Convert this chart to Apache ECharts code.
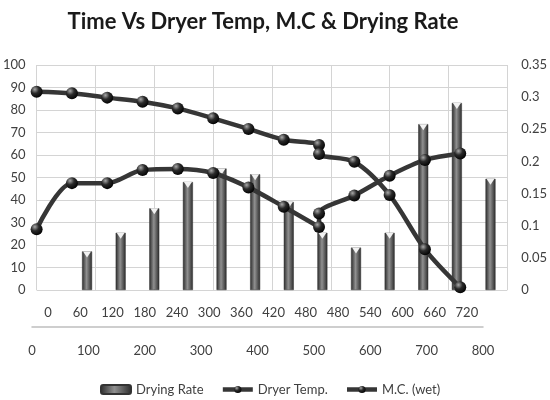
<!DOCTYPE html>
<html>
<head>
<meta charset="utf-8">
<script src="https://cdn.jsdelivr.net/npm/echarts@6/dist/echarts.min.js"></script>
<style>
  html, body { margin: 0; padding: 0; background: #fff; }
  #chart { width: 550px; height: 400px; }
</style>
</head>
<body>
<div id="chart"></div>
<script>
// time (min) - 480 appears twice in the source sheet
const times = ['0', '60', '120', '180', '240', '300', '360', '420', '480', '480', '540', '600', '660', '720']
const timeValues = [0, 60, 120, 180, 240, 300, 360, 420, 480, 480, 540, 600, 660, 720]
const dryingRate = [null, 0.06, 0.089, 0.127, 0.168, 0.189, 0.18, 0.137, 0.089, 0.066, 0.089, 0.258, 0.291, 0.173]
const dryerTemp = [27, 47.5, 47.5, 53.3, 53.8, 52, 45.6, 37, 28, 34, 42, 50.8, 57.8, 60.7]
const moisture = [88.1, 87.4, 85.5, 83.7, 80.7, 76.3, 71.6, 66.8, 64.4, 60.4, 57, 42.2, 18.1, 1.2]

const font = 'Lato, "Liberation Sans", sans-serif'
const labelColor = '#404040'
const gridColor = '#d4d4d4'

const chart = echarts.init(document.getElementById('chart'))

const ball = new echarts.graphic.RadialGradient(0.35, 0.3, 0.75, [
  { offset: 0, color: '#a8a8a8' },
  { offset: 0.45, color: '#2a2a2a' },
  { offset: 1, color: '#000' }
])
const barFill = new echarts.graphic.LinearGradient(0, 0, 1, 0, [
  { offset: 0, color: '#2a2a2a' },
  { offset: 0.45, color: '#909090' },
  { offset: 1, color: '#2a2a2a' }
])

const tickLabel = { fontSize: 13, color: labelColor, fontFamily: font }

chart.setOption({
  animation: false,
  textStyle: { fontFamily: font },
  title: {
    text: 'Time Vs Dryer Temp, M.C & Drying Rate',
    left: 258,
    top: 6,
    textAlign: 'center',
    textStyle: { fontSize: 22, fontWeight: 'bold', color: '#1a1a1a', fontFamily: font }
  },
  legend: {
    data: ['Drying Rate', 'Dryer Temp.', 'M.C. (wet)'],
    left: 95,
    top: 378,
    itemWidth: 30,
    itemHeight: 9,
    itemGap: 17,
    lineStyle: { width: 4.5 },
    textStyle: { fontSize: 13, color: labelColor, fontFamily: font }
  },
  grid: [
    { left: 33, right: 42, top: 65, bottom: 110 },
    // label strip, a little narrower than the plot like the source image
    { left: 32, right: 67, top: 65, bottom: 110 }
  ],
  xAxis: [
    { type: 'category', gridIndex: 0, data: times, show: false },
    {
      type: 'value', gridIndex: 0, min: 0, max: 800, interval: 100,
      axisLine: { show: false }, axisTick: { show: false }, axisLabel: { show: false },
      splitLine: { lineStyle: { color: gridColor } }
    },
    {
      type: 'category', gridIndex: 1, data: times,
      axisLine: { show: false }, axisTick: { show: false },
      axisLabel: Object.assign({ margin: 16, interval: 0 }, tickLabel)
    },
    {
      type: 'value', gridIndex: 1, position: 'bottom', offset: 37,
      min: 0, max: 800, interval: 100,
      axisLine: { show: true, lineStyle: { color: '#bfbfbf', width: 1.5 } },
      axisTick: { show: false }, splitLine: { show: false },
      axisLabel: Object.assign({ margin: 17 }, tickLabel)
    }
  ],
  yAxis: [
    {
      type: 'value', gridIndex: 0, min: 0, max: 100, interval: 10,
      axisLine: { show: false }, axisTick: { show: false },
      axisLabel: Object.assign({ margin: 11 }, tickLabel),
      splitLine: { lineStyle: { color: gridColor } }
    },
    {
      type: 'value', gridIndex: 0, position: 'right', min: 0, max: 0.35, interval: 0.05,
      axisLine: { show: false }, axisTick: { show: false },
      axisLabel: Object.assign({ margin: 14 }, tickLabel),
      splitLine: { show: false }
    },
    { type: 'value', gridIndex: 1, show: false, min: 0, max: 1 }
  ],
  series: [
    {
      name: 'Drying Rate',
      type: 'bar',
      xAxisIndex: 0,
      yAxisIndex: 1,
      data: dryingRate,
      barWidth: 10,
      itemStyle: { color: barFill, borderColor: '#333', borderWidth: 0.5 }
    },
    {
      type: 'pictorialBar',
      xAxisIndex: 0,
      yAxisIndex: 1,
      data: dryingRate,
      barWidth: 10,
      symbol: 'path://M0,0 L10,0 L5,7 Z',
      symbolSize: [8, 6],
      symbolPosition: 'end',
      itemStyle: { color: '#f2f2f2' },
      z: 3
    },
    {
      name: 'Dryer Temp.',
      type: 'line',
      xAxisIndex: 1,
      yAxisIndex: 0,
      data: timeValues.map((t, i) => [t, dryerTemp[i]]),
      smooth: 0.3,
      symbol: 'circle',
      symbolSize: 12,
      lineStyle: { color: '#363636', width: 4.5 },
      itemStyle: { color: ball },
      z: 5
    },
    {
      name: 'M.C. (wet)',
      type: 'line',
      xAxisIndex: 1,
      yAxisIndex: 0,
      data: timeValues.map((t, i) => [t, moisture[i]]),
      smooth: 0.3,
      symbol: 'circle',
      symbolSize: 12,
      lineStyle: { color: '#363636', width: 4.5 },
      itemStyle: { color: ball },
      z: 5
    }
  ]
})
</script>
</body>
</html>
